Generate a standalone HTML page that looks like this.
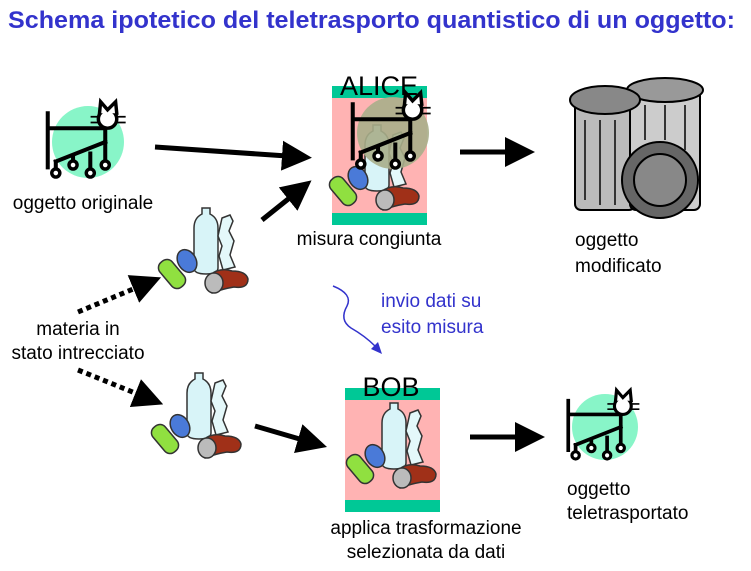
<!DOCTYPE html>
<html><head><meta charset="utf-8"><style>
html,body{margin:0;padding:0;background:#fff;}
svg{display:block;font-family:"Liberation Sans",Arial,sans-serif;}
</style></head><body>
<svg width="751" height="571" viewBox="0 0 751 571" xmlns="http://www.w3.org/2000/svg">
<defs>
<g id="cat" stroke="#000" stroke-width="3.5" fill="none" stroke-linecap="square">
  <path d="M-35,-25 V-12 H15 V0 M-35,-12 V22 M-28,17 L15,0"/>
  <path d="M-28,17 V24 M-13,12 V17 M2,10 V24 M15,0 V17"/>
  <circle cx="-28" cy="27" r="3.5" fill="#fff" stroke-width="3"/>
  <circle cx="-13" cy="20" r="3.5" fill="#fff" stroke-width="3"/>
  <circle cx="2" cy="27" r="3.5" fill="#fff" stroke-width="3"/>
  <circle cx="15" cy="20" r="3.5" fill="#fff" stroke-width="3"/>
  <circle cx="17" cy="-20" r="8" fill="#fff" stroke-width="3"/>
  <path d="M10,-25 L11,-35 L17,-28 L24,-35 L25,-25" stroke-width="3" fill="#fff"/>
  <path d="M3,-22 H9 M3,-17 H9 M25,-22 H32 M25,-17 H32" stroke-width="1.5"/>
</g>
<g id="trash">
  <path d="M40,5 h8 v6 q8,4 8,14 v40 q0,6 -12,6 q-12,0 -12,-6 v-40 q0,-10 8,-14z" fill="#d8f4f8" stroke="#333" stroke-width="1.5"/>
  <path d="M60,15 l8,-3 l3,6 l-4,10 l5,10 l-4,14 l5,12 l-12,3 l-4,-14 l3,-10 l-4,-10 z" fill="#e4f8fa" stroke="#333" stroke-width="1.5"/>
  <ellipse cx="25" cy="58" rx="9" ry="12" transform="rotate(-30 25 58)" fill="#4a7ad8" stroke="#333" stroke-width="1.5"/>
  <rect x="2" y="55" width="16" height="32" rx="7" transform="rotate(-40 10 71)" fill="#90e040" stroke="#333" stroke-width="1.5"/>
  <path d="M48,72 q10,-8 22,-4 q14,0 16,8 q0,10 -14,8 q-12,2 -22,6 q-10,-6 -2,-18z" fill="#a03018" stroke="#333" stroke-width="1.5"/>
  <ellipse cx="52" cy="80" rx="9" ry="10" fill="#bbb" stroke="#333" stroke-width="1.5"/>
</g>
<marker id="ah" markerWidth="6" markerHeight="6" refX="1" refY="3" orient="auto" markerUnits="strokeWidth">
  <path d="M0,0 L6,3 L0,6z" fill="#000"/>
</marker>
</defs>

<text x="8" y="28" font-size="24.5" font-weight="bold" fill="#3333cc" textLength="727" lengthAdjust="spacingAndGlyphs">Schema ipotetico del teletrasporto quantistico di un oggetto:</text>

<!-- original cat -->
<circle cx="88" cy="142" r="36" fill="#88f5c8"/>
<use href="#cat" transform="translate(88 142) scale(1.15)"/>
<text x="83" y="209" font-size="19" text-anchor="middle">oggetto originale</text>

<!-- arrows -->
<g stroke="#000" stroke-width="5">
<line x1="155" y1="147" x2="287" y2="156" marker-end="url(#ah)"/>
<line x1="262" y1="220" x2="292" y2="196" marker-end="url(#ah)"/>
<line x1="460" y1="152" x2="510" y2="152" marker-end="url(#ah)"/>
<line x1="255" y1="426" x2="303" y2="440" marker-end="url(#ah)"/>
<line x1="470" y1="437" x2="520" y2="437" marker-end="url(#ah)"/>
<line x1="78" y1="312" x2="138" y2="287" stroke-dasharray="5,4" marker-end="url(#ah)"/>
<line x1="78" y1="370" x2="140" y2="395" stroke-dasharray="5,4" marker-end="url(#ah)"/>
</g>

<!-- trash piles -->
<use href="#trash" x="162" y="203"/>
<use href="#trash" x="155" y="368"/>

<!-- ALICE -->
<rect x="332" y="98" width="95" height="115" fill="#ffb3b3"/>
<rect x="332" y="86" width="95" height="12" fill="#00c896"/>
<rect x="332" y="213" width="95" height="12" fill="#00c896"/>
<use href="#trash" x="333" y="120"/>
<circle cx="393" cy="133" r="36" fill="#a8ae8a" opacity="0.9"/>
<use href="#cat" transform="translate(393 133) scale(1.15)" style="stroke:#4a0000"/>
<text x="379" y="95" font-size="27" text-anchor="middle">ALICE</text>
<text x="369" y="245" font-size="19" text-anchor="middle">misura congiunta</text>

<!-- garbage cans -->
<g stroke="#000" stroke-width="2">
<rect x="575" y="100" width="60" height="110" rx="6" fill="#bbb"/>
<rect x="630" y="90" width="70" height="120" rx="6" fill="#ccc"/>
<ellipse cx="665" cy="90" rx="38" ry="12" fill="#999"/>
<ellipse cx="605" cy="100" rx="35" ry="14" fill="#888"/>
<circle cx="660" cy="180" r="38" fill="#666"/>
<circle cx="660" cy="180" r="26" fill="#888"/>
</g>
<g stroke="#333" stroke-width="2">
<line x1="585" y1="120" x2="585" y2="200"/><line x1="600" y1="120" x2="600" y2="205"/><line x1="615" y1="120" x2="615" y2="205"/>
<line x1="645" y1="105" x2="645" y2="140"/><line x1="665" y1="105" x2="665" y2="140"/><line x1="685" y1="105" x2="685" y2="150"/>
</g>
<text x="575" y="246" font-size="19">oggetto</text>
<text x="575" y="272" font-size="19">modificato</text>

<!-- materia -->
<text x="78" y="335" font-size="19" text-anchor="middle">materia in</text>
<text x="78" y="359" font-size="19" text-anchor="middle">stato intrecciato</text>

<!-- blue squiggle -->
<path d="M333,286 q20,8 14,20 q-8,14 4,22 q14,8 24,18" stroke="#3333cc" stroke-width="1.5" fill="none"/>
<path d="M382,354 L371,349 L378,342z" fill="#3333cc"/>
<text x="381" y="307" font-size="19" fill="#3333cc">invio dati su</text>
<text x="381" y="333" font-size="19" fill="#3333cc">esito misura</text>

<!-- BOB -->
<rect x="345" y="400" width="95" height="100" fill="#ffb3b3"/>
<rect x="345" y="388" width="95" height="12" fill="#00c896"/>
<rect x="345" y="500" width="95" height="12" fill="#00c896"/>
<use href="#trash" x="350" y="398"/>
<text x="391" y="396" font-size="27" text-anchor="middle">BOB</text>
<text x="426" y="534" font-size="19" text-anchor="middle">applica trasformazione</text>
<text x="426" y="558" font-size="19" text-anchor="middle">selezionata da dati</text>

<!-- teleported cat -->
<circle cx="605" cy="427" r="33" fill="#88f5c8"/>
<use href="#cat" transform="translate(605 427) scale(1.05)"/>
<text x="567" y="495" font-size="19">oggetto</text>
<text x="567" y="519" font-size="19">teletrasportato</text>
</svg>
</body></html>
